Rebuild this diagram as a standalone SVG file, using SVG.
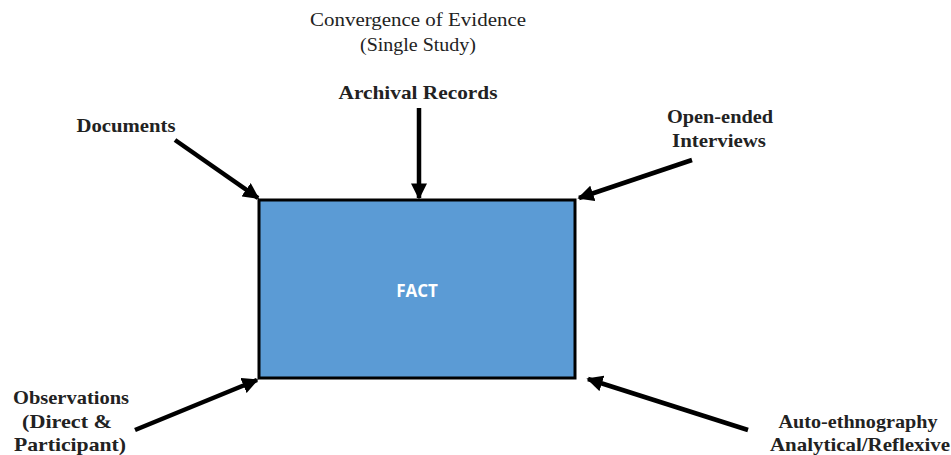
<svg xmlns="http://www.w3.org/2000/svg" width="951" height="455" viewBox="0 0 951 455">
<style>
.t{font-family:"Liberation Serif","Times New Roman",serif;fill:#222}
.b{font-weight:bold;font-size:19.5px}
.r{font-size:18px}
.c{stroke:#000;stroke-width:4.5;fill:none;marker-end:url(#ah)}
</style>
<defs>
<marker id="ah" viewBox="0 0 10 10" refX="9" refY="5" markerWidth="3.6" markerHeight="3.6" orient="auto" markerUnits="strokeWidth">
<path d="M0,0 L10,5 L0,10 Z" fill="#000"/>
</marker>
</defs>
<rect width="951" height="455" fill="#fff"/>
<g id="title">
<text class="t r" x="418" y="26" text-anchor="middle" textLength="216" lengthAdjust="spacingAndGlyphs">Convergence of Evidence</text>
<text class="t r" x="418" y="51" text-anchor="middle" textLength="116" lengthAdjust="spacingAndGlyphs">(Single Study)</text>
</g>
<g id="fact">
<rect x="259" y="200" width="316" height="178" fill="#5B9BD5" stroke="#000" stroke-width="3"/>
<text x="417" y="297" text-anchor="middle" font-family="'Open Sans','Noto Sans',sans-serif" font-weight="bold" font-size="17" fill="#fff">FACT</text>
</g>
<g id="archival">
<text class="t b" x="418" y="99" text-anchor="middle" textLength="159" lengthAdjust="spacingAndGlyphs">Archival Records</text>
</g>
<g id="documents">
<text class="t b" x="126" y="132" text-anchor="middle" textLength="99" lengthAdjust="spacingAndGlyphs">Documents</text>
</g>
<g id="interviews">
<text class="t b" x="720" y="123" text-anchor="middle" textLength="106" lengthAdjust="spacingAndGlyphs">Open-ended</text>
<text class="t b" x="719" y="147" text-anchor="middle" textLength="94" lengthAdjust="spacingAndGlyphs">Interviews</text>
</g>
<g id="observations">
<text class="t b" x="71" y="404" text-anchor="middle" textLength="116" lengthAdjust="spacingAndGlyphs">Observations</text>
<text class="t b" x="67" y="428" text-anchor="middle" textLength="90" lengthAdjust="spacingAndGlyphs">(Direct &amp;</text>
<text class="t b" x="70" y="451" text-anchor="middle" textLength="112" lengthAdjust="spacingAndGlyphs">Participant)</text>
</g>
<g id="autoethnography">
<text class="t b" x="858" y="428" text-anchor="middle" textLength="159" lengthAdjust="spacingAndGlyphs">Auto-ethnography</text>
<text class="t b" x="860" y="451" text-anchor="middle" textLength="180" lengthAdjust="spacingAndGlyphs">Analytical/Reflexive</text>
</g>
<g id="connectors">
<line class="c" x1="175" y1="140" x2="258" y2="198"/>
<line class="c" x1="419" y1="108" x2="419" y2="198"/>
<line class="c" x1="692" y1="160" x2="579" y2="198"/>
<line class="c" x1="135" y1="430" x2="257" y2="380"/>
<line class="c" x1="748" y1="430" x2="588" y2="379"/>
</g>
</svg>
